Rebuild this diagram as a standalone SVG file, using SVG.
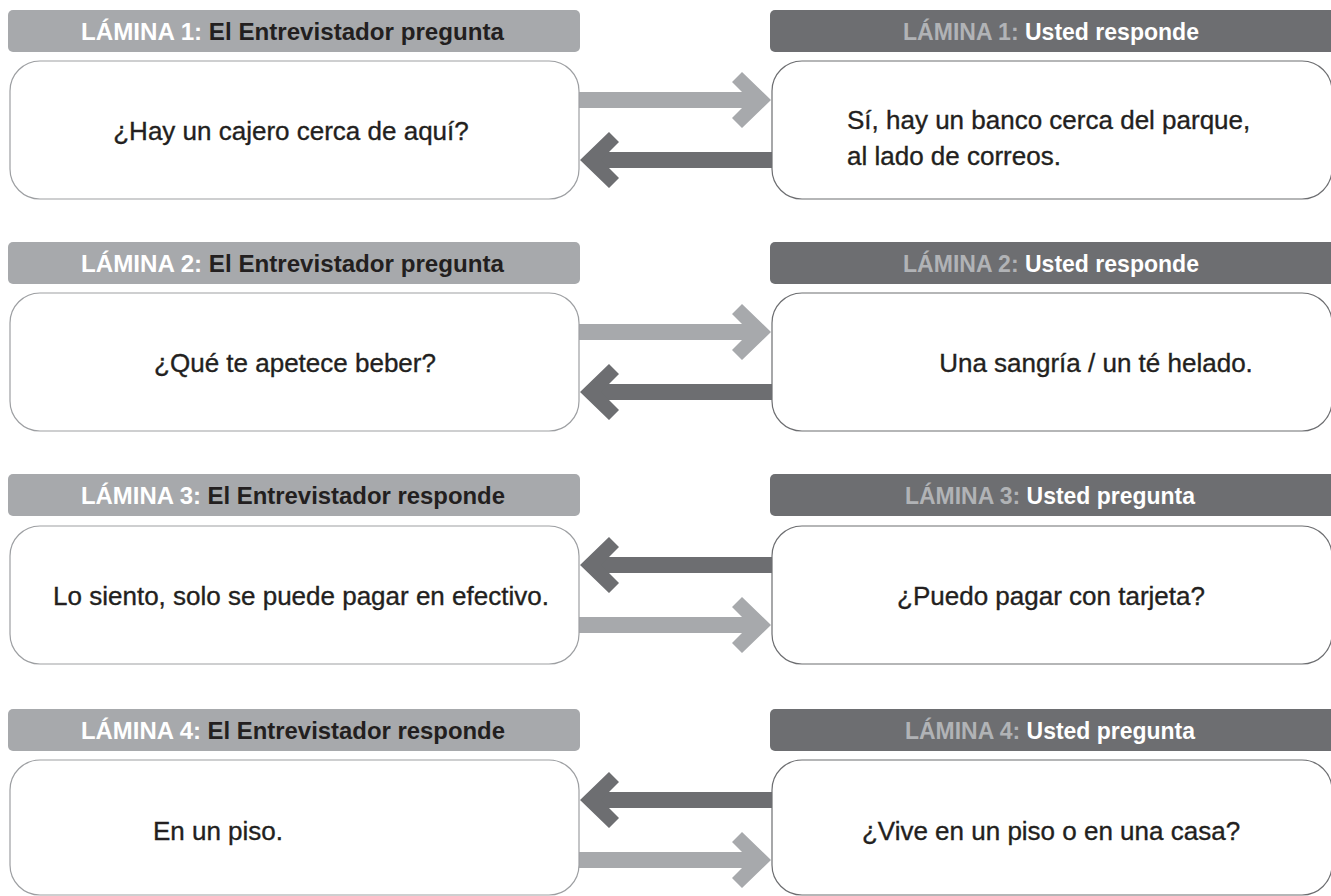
<svg xmlns="http://www.w3.org/2000/svg" xmlns:xlink="http://www.w3.org/1999/xlink" width="1331" height="896" viewBox="0 0 1331 896">
  <defs>
    <style>
      .hl { fill: #a7a9ac; }
      .hd { fill: #6d6e71; }
      .boxl { fill: #ffffff; stroke: #9d9fa2; stroke-width: 1.2; }
      .boxr { fill: #ffffff; stroke: #6d6e71; stroke-width: 1.2; }
      .ht { font-family: "Liberation Sans", Arial, sans-serif; font-weight: bold; font-size: 23px; }
      .ht-lab-l { fill: #ffffff; }
      .ht-txt-l { fill: #231f20; }
      .ht-lab-d { fill: #b1b3b6; }
      .ht-txt-d { fill: #ffffff; }
      .bt { font-family: "Liberation Sans", Arial, sans-serif; font-size: 26px; fill: #231f20; stroke: #231f20; stroke-width: 0.35; }
      .mid { text-anchor: middle; }
      .al { fill: #a7a9ac; }
      .ad { fill: #6d6e71; }
    </style>
    <g id="arrR">
      <rect x="0" y="-8" width="181" height="16"/>
      <polygon points="163,-28 192,0 163,28 153,18 171,0 153,-18"/>
    </g>
    <g id="arrL">
      <rect x="12" y="-8" width="181" height="16"/>
      <polygon points="30,-28 1,0 30,28 40,18 22,0 40,-18"/>
    </g>
  </defs>

  <g id="connectors">
    <use xlink:href="#arrR" class="al" transform="translate(579,100)"/>
    <use xlink:href="#arrL" class="ad" transform="translate(579,160)"/>
    <use xlink:href="#arrR" class="al" transform="translate(579,332)"/>
    <use xlink:href="#arrL" class="ad" transform="translate(579,392)"/>
    <use xlink:href="#arrL" class="ad" transform="translate(579,565)"/>
    <use xlink:href="#arrR" class="al" transform="translate(579,625)"/>
    <use xlink:href="#arrL" class="ad" transform="translate(579,800)"/>
    <use xlink:href="#arrR" class="al" transform="translate(579,860)"/>
  </g>

  <!-- Row 1 -->
  <g id="h1l">
    <rect class="hl" x="8" y="10" width="572" height="42" rx="5"/>
    <text class="ht" x="81" y="40" textLength="423" lengthAdjust="spacingAndGlyphs"><tspan class="ht-lab-l">LÁMINA 1:</tspan> <tspan class="ht-txt-l">El Entrevistador pregunta</tspan></text>
  </g>
  <g id="b1l">
    <rect class="boxl" x="10" y="61" width="569" height="138" rx="30"/>
    <text class="bt mid" x="291" y="140">¿Hay un cajero cerca de aquí?</text>
  </g>
  <g id="h1r">
    <rect class="hd" x="770" y="10" width="580" height="42" rx="5"/>
    <text class="ht" x="903" y="40" textLength="296" lengthAdjust="spacingAndGlyphs"><tspan class="ht-lab-d">LÁMINA 1:</tspan> <tspan class="ht-txt-d">Usted responde</tspan></text>
  </g>
  <g id="b1r">
    <rect class="boxr" x="772" y="61" width="560" height="138" rx="30"/>
    <text class="bt" x="847" y="129">Sí, hay un banco cerca del parque,</text>
    <text class="bt" x="847" y="165">al lado de correos.</text>
  </g>

  <!-- Row 2 -->
  <g id="h2l">
    <rect class="hl" x="8" y="242" width="572" height="42" rx="5"/>
    <text class="ht" x="81" y="272" textLength="423" lengthAdjust="spacingAndGlyphs"><tspan class="ht-lab-l">LÁMINA 2:</tspan> <tspan class="ht-txt-l">El Entrevistador pregunta</tspan></text>
  </g>
  <g id="b2l">
    <rect class="boxl" x="10" y="293" width="569" height="138" rx="30"/>
    <text class="bt mid" x="295" y="372">¿Qué te apetece beber?</text>
  </g>
  <g id="h2r">
    <rect class="hd" x="770" y="242" width="580" height="42" rx="5"/>
    <text class="ht" x="903" y="272" textLength="296" lengthAdjust="spacingAndGlyphs"><tspan class="ht-lab-d">LÁMINA 2:</tspan> <tspan class="ht-txt-d">Usted responde</tspan></text>
  </g>
  <g id="b2r">
    <rect class="boxr" x="772" y="293" width="560" height="138" rx="30"/>
    <text class="bt mid" x="1096" y="372">Una sangría / un té helado.</text>
  </g>

  <!-- Row 3 -->
  <g id="h3l">
    <rect class="hl" x="8" y="474" width="572" height="42" rx="5"/>
    <text class="ht" x="81" y="504" textLength="424" lengthAdjust="spacingAndGlyphs"><tspan class="ht-lab-l">LÁMINA 3:</tspan> <tspan class="ht-txt-l">El Entrevistador responde</tspan></text>
  </g>
  <g id="b3l">
    <rect class="boxl" x="10" y="526" width="569" height="138" rx="30"/>
    <text class="bt mid" x="301" y="605">Lo siento, solo se puede pagar en efectivo.</text>
  </g>
  <g id="h3r">
    <rect class="hd" x="770" y="474" width="580" height="42" rx="5"/>
    <text class="ht" x="905" y="504" textLength="290" lengthAdjust="spacingAndGlyphs"><tspan class="ht-lab-d">LÁMINA 3:</tspan> <tspan class="ht-txt-d">Usted pregunta</tspan></text>
  </g>
  <g id="b3r">
    <rect class="boxr" x="772" y="526" width="560" height="138" rx="30"/>
    <text class="bt mid" x="1051" y="605">¿Puedo pagar con tarjeta?</text>
  </g>

  <!-- Row 4 -->
  <g id="h4l">
    <rect class="hl" x="8" y="709" width="572" height="42" rx="5"/>
    <text class="ht" x="81" y="739" textLength="424" lengthAdjust="spacingAndGlyphs"><tspan class="ht-lab-l">LÁMINA 4:</tspan> <tspan class="ht-txt-l">El Entrevistador responde</tspan></text>
  </g>
  <g id="b4l">
    <rect class="boxl" x="10" y="760" width="569" height="135" rx="30"/>
    <text class="bt mid" x="218" y="840">En un piso.</text>
  </g>
  <g id="h4r">
    <rect class="hd" x="770" y="709" width="580" height="42" rx="5"/>
    <text class="ht" x="905" y="739" textLength="290" lengthAdjust="spacingAndGlyphs"><tspan class="ht-lab-d">LÁMINA 4:</tspan> <tspan class="ht-txt-d">Usted pregunta</tspan></text>
  </g>
  <g id="b4r">
    <rect class="boxr" x="772" y="760" width="560" height="135" rx="30"/>
    <text class="bt mid" x="1051" y="840">¿Vive en un piso o en una casa?</text>
  </g>
</svg>
